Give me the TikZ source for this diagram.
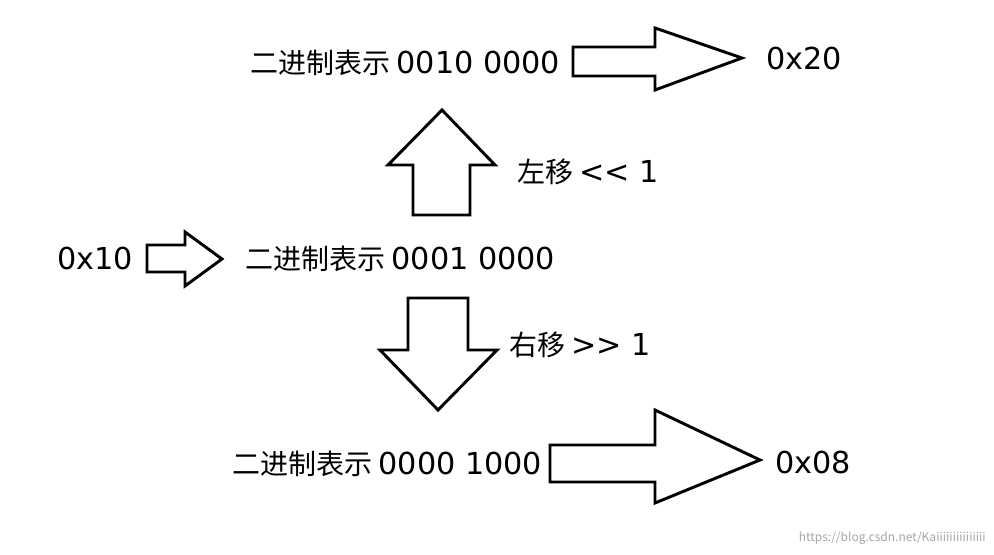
\documentclass[tikz,border=0pt]{standalone}
\usepackage{fontspec}
\setmainfont{Noto Sans CJK SC}
\newfontfamily\lat[Ligatures=NoCommon,Scale=1.08]{DejaVu Sans}
\begin{document}
\begin{tikzpicture}[x=0.75pt,y=-0.75pt,
  blk/.style={draw=black,line width=2.2pt,fill=white,line join=miter},
  lbl/.style={font=\fontsize{21}{24}\selectfont,inner sep=0pt},
  wm/.style={font=\fontsize{9}{10}\selectfont,text=gray!70,inner sep=0pt}]
\useasboundingbox (0,0) rectangle (994,555);
% texts
\node[lbl,anchor=west] (b1) at (250,63) {二进制表示 {\lat 0010 0000}};
\node[lbl,anchor=west] (r1) at (766,58) {\lat 0x20};
\node[lbl,anchor=west] (sl) at (517,172) {左移 {\lat {<}{<} 1}};
\node[lbl,anchor=west] (a0) at (57,258) {\lat 0x10};
\node[lbl,anchor=west] (b0) at (245,259) {二进制表示 {\lat 0001 0000}};
\node[lbl,anchor=west] (sr) at (509,345) {右移 {\lat {>}{>} 1}};
\node[lbl,anchor=west] (b2) at (232,464) {二进制表示 {\lat 0000 1000}};
\node[lbl,anchor=west] (r2) at (775,462) {\lat 0x08};
\node[wm,anchor=east] (w) at (986,538) {https://blog.csdn.net/Kaiiiiiiiiiiiiiii};
% arrows
\draw[blk] (573,47) -- (655,47) -- (655,28) -- (742,58) -- (655,90) -- (655,76) -- (573,76) -- cycle;
\draw[blk] (413,215) -- (413,165) -- (388,165) -- (442,110) -- (495,165) -- (470,165) -- (470,215) -- cycle;
\draw[blk] (147,245) -- (185,245) -- (185,232) -- (222,259) -- (185,286) -- (185,272) -- (147,272) -- cycle;
\draw[blk] (408,298) -- (468,298) -- (468,350) -- (497,350) -- (438,410) -- (380,350) -- (408,350) -- cycle;
\draw[blk] (550,445) -- (655,445) -- (655,410) -- (760,460) -- (655,503) -- (655,482) -- (550,482) -- cycle;
\end{tikzpicture}
\end{document}
